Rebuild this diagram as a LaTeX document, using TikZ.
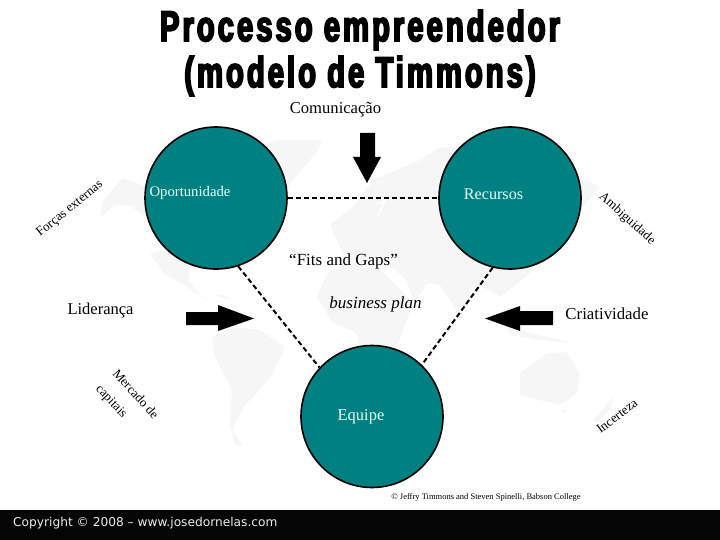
\documentclass[tikz,border=0pt]{standalone}
\usepackage{fontspec}
\setmainfont{Liberation Serif}
\newfontfamily\titlefont{Liberation Sans}[BoldFeatures={FakeStretch=0.68,FakeBold=4,LetterSpace=7}]
\newfontfamily\copyfont{DejaVu Sans}
\definecolor{tealc}{HTML}{008080}
\definecolor{mapc}{HTML}{F6F6F6}
\definecolor{pale}{HTML}{E4FFFF}
\tikzset{
  bubble/.style={circle,draw=black,line width=1.6pt,fill=tealc,minimum size=142pt,inner sep=0pt},
  inbubble/.style={text=pale,inner sep=0pt},
  lbl/.style={text=black,inner sep=0pt,font=\fontsize{16.6}{18}\selectfont},
  edgelbl/.style={text=black,inner sep=0pt,font=\fontsize{13}{15}\selectfont},
  link/.style={line width=2pt,dash pattern=on 5pt off 3pt},
  block/.style={fill=black,draw=none},
  land/.style={fill=mapc,draw=none,rounded corners=2pt},
  gap/.style={draw=white,line width=1.5pt,line cap=round},
  titletext/.style={inner sep=0pt,font=\titlefont\bfseries\fontsize{43}{45}\selectfont}
}
\begin{document}
\begin{tikzpicture}[x=1pt,y=-1pt]
\useasboundingbox (0,0) rectangle (720,540);
\fill[white] (0,0) rectangle (720,540);
% map
\fill[land] (100,217) -- (103,200) -- (123,178) -- (147,187) -- (190,160) -- (280,140) -- (322,140) -- (318,150) -- (300,172) -- (285,190) -- (270,230) -- (150,253) -- (163,273) -- (187,287) -- (200,296) -- (210,302) -- (200,295) -- (188,280) -- (190,268) -- (160,230) -- (130,205) -- (115,205) -- cycle;
\fill[land] (213,293) -- (225,295) -- (233,300) -- (222,298) -- cycle;
\fill[land] (212,337) -- (233,327) -- (260,330) -- (285,347) -- (273,373) -- (257,393) -- (243,407) -- (232,430) -- (243,445) -- (235,445) -- (230,423) -- (232,390) -- (215,357) -- cycle;
\fill[land] (327,273) -- (353,263) -- (380,270) -- (397,287) -- (413,303) -- (403,330) -- (397,347) -- (372,400) -- (360,350) -- (357,333) -- (333,323) -- (317,297) -- cycle;
\fill[land] (330,225) -- (355,205) -- (373,180) -- (420,160) -- (440,147) -- (500,150) -- (580,177) -- (600,187) -- (580,210) -- (560,240) -- (537,267) -- (513,287) -- (500,297) -- (480,285) -- (470,290) -- (462,317) -- (450,300) -- (440,285) -- (427,283) -- (415,303) -- (405,278) -- (385,262) -- (345,258) -- cycle;
\fill[land] (507,327) -- (525,332) -- (573,343) -- (540,340) -- (510,335) -- cycle;
\fill[land] (520,373) -- (547,353) -- (567,352) -- (580,373) -- (577,393) -- (560,405) -- (520,395) -- cycle;
\fill[land] (593,420) -- (607,405) -- (613,397) -- (610,410) -- (598,423) -- cycle;
\fill[land] (561,409) -- (567,409) -- (564,415) -- cycle;
\draw[gap] (345,255) -- (395,262);
\draw[gap] (375,205) -- (385,200) -- (378,215);
% circles
\node[bubble] (opp) at (216,198) {};
\node[bubble] (rec) at (510,198) {};
\node[bubble] (equ) at (372,416.5) {};
% connectors
\draw[link] (opp.east) -- (rec.west);
\draw[link] (opp.-72) -- (equ.137);
\draw[link] (rec.-104) -- (equ.46);
% block arrows
\fill[block] (360,133) -- (375,133) -- (375,157) -- (381,157) -- (367,183) -- (353,157) -- (360,157) -- cycle;
\fill[block] (186,312) -- (218,312) -- (218,305) -- (254,318.5) -- (218,331) -- (218,325) -- (186,325) -- cycle;
\fill[block] (553,311) -- (520,311) -- (520,306) -- (485,318.5) -- (520,331) -- (520,325) -- (553,325) -- cycle;
% title
\node[titletext] (t1) at (360,30) {Processo empreendedor};
\node[titletext] (t2) at (360,76) {(modelo de Timmons)};
% labels
\node[lbl] (l1) at (335.5,110) {Comunicação};
\node[inbubble,font=\fontsize{14.7}{16}\selectfont] (l2) at (190,193) {Oportunidade};
\node[inbubble,font=\fontsize{16.2}{18}\selectfont] (l3) at (493.5,194) {Recursos};
\node[lbl,font=\fontsize{17}{18}\selectfont] (l4) at (343.5,261) {“Fits and Gaps”};
\node[lbl,font=\itshape\fontsize{17}{18}\selectfont] (l5) at (375.5,304) {business plan};
\node[lbl,font=\fontsize{16.5}{18}\selectfont] (l6) at (100.5,311) {Liderança};
\node[lbl,font=\fontsize{16.8}{18}\selectfont] (l7) at (607,314) {Criatividade};
\node[inbubble,font=\fontsize{16.5}{18}\selectfont] (l8) at (361,417) {Equipe};
\node[edgelbl,rotate=39] (e1) at (70,209) {Forças externas};
\node[edgelbl,rotate=-42] (e2) at (627,219) {Ambiguidade};
\node[edgelbl,rotate=-48] (e3) at (136,394) {Mercado de};
\node[edgelbl,rotate=-47] (e4) at (111,402) {capitais};
\node[edgelbl,rotate=37] (e5) at (617,416) {Incerteza};
\node[inner sep=0pt,font=\fontsize{8.5}{9}\selectfont] (cr) at (486,497) {© Jeffry Timmons and Steven Spinelli, Babson College};
% footer
\fill[black!98] (0,510) rectangle (720,540);
\node[inner sep=0pt,text=black!8,font=\copyfont\fontsize{12.2}{14}\selectfont,anchor=west] (foot) at (13,523) {Copyright © 2008 – www.josedornelas.com};
\end{tikzpicture}
\end{document}
